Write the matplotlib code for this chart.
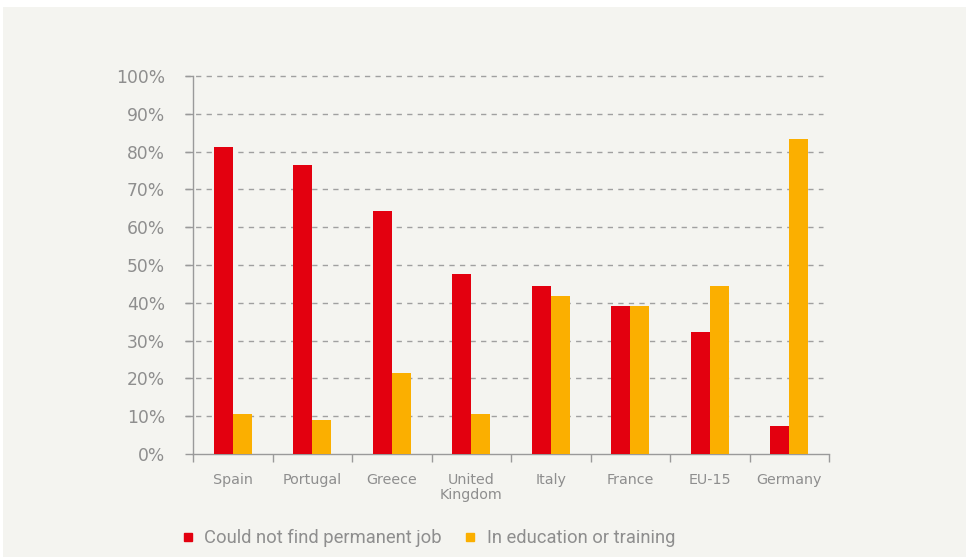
import numpy as np
import matplotlib.pyplot as plt
from matplotlib.patches import Rectangle
from matplotlib.lines import Line2D

countries = ['Spain', 'Portugal', 'Greece', 'United\nKingdom', 'Italy', 'France', 'EU-15', 'Germany']
no_perm_job = [81.2, 76.5, 64.3, 47.6, 44.4, 39.2, 32.3, 7.4]
education = [10.6, 9.0, 21.4, 10.6, 41.8, 39.2, 44.4, 83.3]
yticks = [0, 10, 20, 30, 40, 50, 60, 70, 80, 90, 100]

RED = '#e3000f'
ORANGE = '#fbaf00'
GREY = '#8e8e8e'
BG = '#f4f4f0'

plt.rcParams['font.family'] = ['DejaVu Sans']

fig = plt.figure(figsize=(9.66, 5.57), dpi=100, facecolor='white')
# light panel behind the chart
fig.patches.append(Rectangle((3/966, 0), 1, 550/557, transform=fig.transFigure,
                             facecolor=BG, edgecolor='none', zorder=-10))

ax = fig.add_axes([193/966, 1-454/557, 636/966, 378/557])
ax.set_facecolor('none')

x = np.arange(len(countries))
w = 0.24
ax.bar(x - w/2, no_perm_job, w, color=RED, zorder=3)
ax.bar(x + w/2, education, w, color=ORANGE, zorder=3)

ax.set_xlim(-0.5, len(countries) - 0.5)
ax.set_ylim(0, 100)

ax.set_yticks(yticks)
ax.set_yticklabels([f'{v}%' for v in yticks])
for v in yticks[1:]:
    ax.plot([-0.6, len(countries) - 0.57], [v, v], color='#a0a0a0', lw=1,
            ls=(0, (3.8, 3.8)), clip_on=False, zorder=1)

ax.set_xticks(np.arange(len(countries) + 1) - 0.5, minor=False)
ax.set_xticklabels([])
ax.set_xticks(x, minor=True)
ax.set_xticklabels(countries, minor=True, fontsize=10.3, color=GREY, linespacing=1.05)
ax.tick_params(axis='x', which='major', length=6, width=1, color='#9a9a9a', direction='out')
ax.tick_params(axis='x', which='minor', length=0, pad=14)
ax.tick_params(axis='y', length=6, width=1, color='#9a9a9a', direction='out',
               pad=14, labelsize=12.3, labelcolor=GREY)

for s in ['top', 'right']:
    ax.spines[s].set_visible(False)
for s in ['left', 'bottom']:
    ax.spines[s].set_color('#9a9a9a')
    ax.spines[s].set_linewidth(1)

handles = [Line2D([], [], marker='s', ls='none', color=RED, markersize=5.5),
           Line2D([], [], marker='s', ls='none', color=ORANGE, markersize=5.5)]
leg = fig.legend(handles, ['Could not find permanent job', 'In education or training'],
                 loc='center', bbox_to_anchor=(427/966, 1-538/557), ncol=2, frameon=False,
                 prop={'family': 'Roboto', 'size': 13.2},
                 handletextpad=0.4, columnspacing=1.05, handlelength=1.0)
for t in leg.get_texts():
    t.set_color(GREY)

fig.savefig('out.png', dpi=100, facecolor='white')
